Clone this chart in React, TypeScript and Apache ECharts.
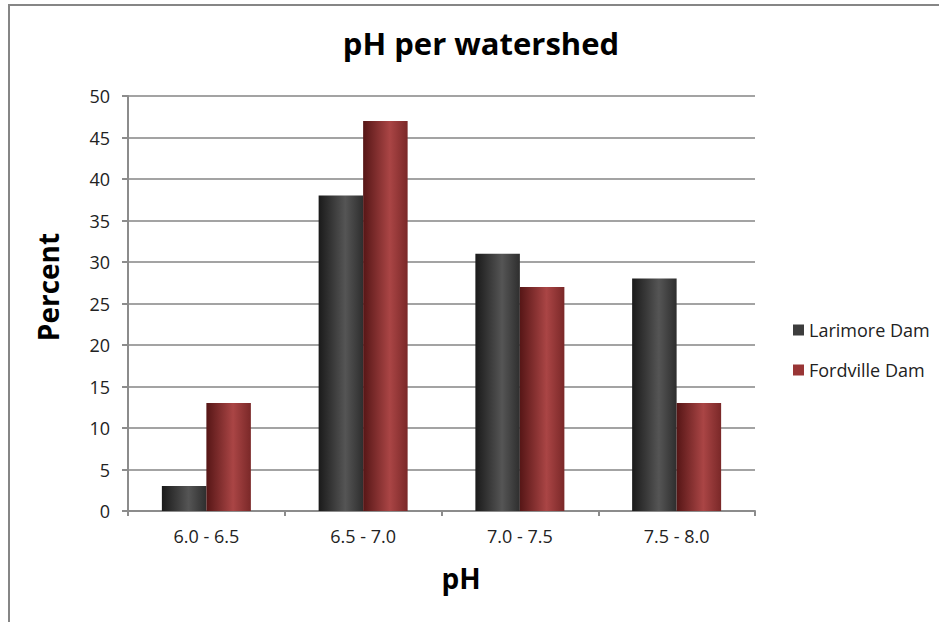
import React, { useEffect, useRef } from "react";
import * as echarts from "echarts";

const categories = ["6.0 - 6.5", "6.5 - 7.0", "7.0 - 7.5", "7.5 - 8.0"];
const larimore = [3, 38, 31, 28];
const fordville = [13, 47, 27, 13];
const seriesNames = ["Larimore Dam", "Fordville Dam"];
const yTitle = "Percent";
const xTitle = "pH";
const chartTitle = "pH per watershed";

const FONT = "'Open Sans', sans-serif";

export default function App() {
  const ref = useRef<HTMLDivElement>(null);
  useEffect(() => {
    document.body.style.margin = "0";
    const chart = echarts.init(ref.current!, null, { renderer: "svg" });
    const darkGrad = new echarts.graphic.LinearGradient(0, 0, 1, 0, [
      { offset: 0, color: "#1a1a1a" },
      { offset: 0.6, color: "#555555" },
      { offset: 1, color: "#2e2e2e" },
    ]);
    const redGrad = new echarts.graphic.LinearGradient(0, 0, 1, 0, [
      { offset: 0, color: "#561616" },
      { offset: 0.6, color: "#aa4545" },
      { offset: 1, color: "#7a2828" },
    ]);
    chart.setOption({
      animation: false,
      backgroundColor: "#ffffff",
      title: {
        text: chartTitle,
        left: 476,
        top: 22,
        textAlign: "center",
        textStyle: { fontFamily: FONT, fontSize: 31, fontWeight: "bold", color: "#000" },
      },
      graphic: [
        {
          type: "rect",
          shape: { x: 9, y: 5, width: 1000, height: 700 },
          style: { fill: "none", stroke: "#868686", lineWidth: 2 },
          silent: true,
        },
        {
          type: "text",
          x: 48,
          y: 287,
          rotation: Math.PI / 2,
          style: {
            text: yTitle,
            fontFamily: FONT,
            fontSize: 28,
            fontWeight: "bold",
            fill: "#000",
            textAlign: "center",
            textVerticalAlign: "middle",
          },
          silent: true,
        },
        {
          type: "text",
          x: 461,
          y: 578,
          style: {
            text: xTitle,
            fontFamily: FONT,
            fontSize: 28,
            fontWeight: "bold",
            fill: "#000",
            textAlign: "center",
            textVerticalAlign: "middle",
          },
          silent: true,
        },
      ],
      legend: {
        orient: "vertical",
        left: 788,
        top: 316,
        itemWidth: 11,
        itemHeight: 11,
        itemGap: 22,
        icon: "rect",
        textStyle: { fontFamily: FONT, fontSize: 18, color: "#222" },
        data: [
          { name: seriesNames[0], itemStyle: { color: "#3d3d3d" } },
          { name: seriesNames[1], itemStyle: { color: "#993535" } },
        ],
      },
      grid: { left: 128, top: 96, right: 184, bottom: 111, containLabel: false },
      xAxis: {
        type: "category",
        data: categories,
        axisLine: { lineStyle: { color: "#8c8c8c", width: 2 } },
        axisTick: { show: true, length: 5, lineStyle: { color: "#8c8c8c", width: 2 } },
        axisLabel: { fontFamily: FONT, fontSize: 18, color: "#222", margin: 16 },
      },
      yAxis: {
        type: "value",
        min: 0,
        max: 50,
        interval: 5,
        axisLine: { show: true, lineStyle: { color: "#8c8c8c", width: 2 } },
        axisTick: { show: true, length: 6, lineStyle: { color: "#8c8c8c", width: 2 } },
        axisLabel: { fontFamily: FONT, fontSize: 18, color: "#222", margin: 18 },
        splitLine: { show: true, lineStyle: { color: "#a3a3a3", width: 2 } },
      },
      series: [
        {
          name: seriesNames[0],
          type: "bar",
          data: larimore,
          barWidth: 44.5,
          barGap: "0%",
          itemStyle: { color: darkGrad },
        },
        {
          name: seriesNames[1],
          type: "bar",
          data: fordville,
          barWidth: 44.5,
          barGap: "0%",
          itemStyle: { color: redGrad },
        },
      ],
    });
    return () => chart.dispose();
  }, []);
  return (
    <div
      ref={ref}
      style={{ position: "absolute", left: 0, top: 0, width: 939, height: 622 }}
    />
  );
}
